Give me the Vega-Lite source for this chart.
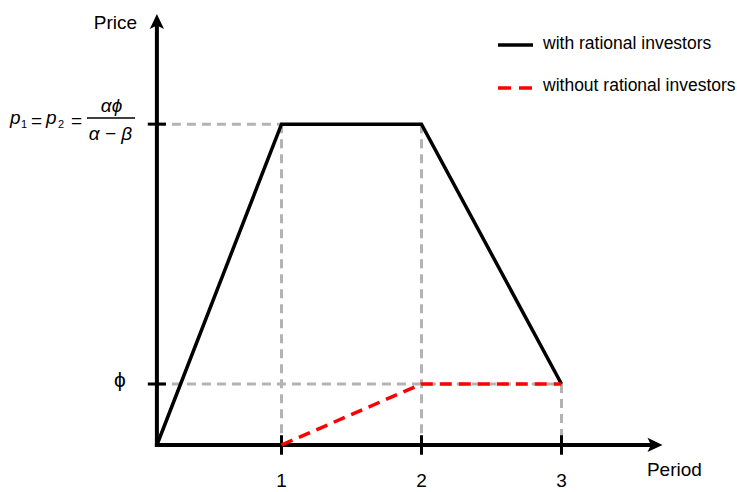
{
  "$schema": "https://vega.github.io/schema/vega-lite/v6.json",
  "width": 737,
  "height": 492,
  "autosize": {"type": "none"},
  "padding": 0,
  "background": "white",
  "config": {
    "view": {"stroke": null},
    "text": {"font": "Liberation Sans", "color": "black"}
  },
  "datasets": {
    "guides": [
      {"x": 0.11, "y": 5.26, "x2": 1, "y2": 5.26},
      {"x": 1, "y": 5.26, "x2": 1, "y2": 0},
      {"x": 2, "y": 5.26, "x2": 2, "y2": 0},
      {"x": 0.11, "y": 1, "x2": 3, "y2": 1},
      {"x": 3, "y": 1, "x2": 3, "y2": 0}
    ],
    "axes": [
      {"x": 0.11, "y": 0, "x2": 3.64, "y2": 0},
      {"x": 0.11, "y": 0, "x2": 0.11, "y2": 6.88}
    ],
    "ticks": [
      {"x": 1, "y": -0.16, "x2": 1, "y2": 0.16},
      {"x": 2, "y": -0.16, "x2": 2, "y2": 0.16},
      {"x": 3, "y": -0.16, "x2": 3, "y2": 0.16},
      {"x": 0.045, "y": 1, "x2": 0.175, "y2": 1},
      {"x": 0.045, "y": 5.26, "x2": 0.175, "y2": 5.26}
    ],
    "arrow_x": [{"x": 3.668, "y": 0}],
    "arrow_y": [{"x": 0.11, "y": 6.943}],
    "with_rational": [
      {"x": 0.11, "y": 0},
      {"x": 1, "y": 5.26},
      {"x": 2, "y": 5.26},
      {"x": 3, "y": 1}
    ],
    "without_rational": [
      {"x": 1, "y": 0},
      {"x": 2, "y": 1},
      {"x": 3, "y": 1}
    ],
    "period_labels": [
      {"x": 1, "y": -0.695, "label": "1"},
      {"x": 2, "y": -0.695, "label": "2"},
      {"x": 3, "y": -0.695, "label": "3"}
    ],
    "title_period": [{"x": 3.61, "y": -0.508, "label": "Period"}],
    "title_price": [{"x": -0.032, "y": 6.82, "label": "Price"}],
    "phi_label": [{"x": -0.1536, "y": 1.049, "label": "ϕ"}],
    "formula_p": [
      {"x": -0.9393, "y": 5.262, "label": "p"},
      {"x": -0.682, "y": 5.262, "label": "p"}
    ],
    "formula_sub": [
      {"x": -0.8607, "y": 5.197, "label": "1"},
      {"x": -0.5964, "y": 5.197, "label": "2"}
    ],
    "formula_eq": [
      {"x": -0.7893, "y": 5.221, "label": "="},
      {"x": -0.5036, "y": 5.221, "label": "="}
    ],
    "formula_frac": [
      {"x": -0.2143, "y": 5.459, "label": "αϕ"},
      {"x": -0.2214, "y": 5.0, "label": "α − β"}
    ],
    "formula_bar": [{"x": -0.3893, "y": 5.36, "x2": -0.0464, "y2": 5.36}],
    "legend_with": [{"x": 2.5464, "y": 6.557, "x2": 2.7964, "y2": 6.557}],
    "legend_without": [{"x": 2.5464, "y": 5.852, "x2": 2.7964, "y2": 5.852}],
    "legend_text": [
      {"x": 2.868, "y": 6.574, "label": "with rational investors"},
      {"x": 2.868, "y": 5.885, "label": "without rational investors"}
    ]
  },
  "encoding": {
    "x": {"field": "x", "type": "quantitative", "axis": null,
          "scale": {"domain": [-1.0107, 4.2536], "nice": false, "zero": false}},
    "y": {"field": "y", "type": "quantitative", "axis": null,
          "scale": {"domain": [-0.7705, 7.2951], "nice": false, "zero": false}}
  },
  "layer": [
    {
      "data": {"name": "guides"},
      "mark": {"type": "rule", "stroke": "#b3b3b3", "strokeWidth": 3, "strokeDash": [9, 6]},
      "encoding": {"x2": {"field": "x2"}, "y2": {"field": "y2"}}
    },
    {
      "data": {"name": "axes"},
      "mark": {"type": "rule", "stroke": "black", "strokeWidth": 4, "strokeCap": "square"},
      "encoding": {"x2": {"field": "x2"}, "y2": {"field": "y2"}}
    },
    {
      "data": {"name": "ticks"},
      "mark": {"type": "rule", "stroke": "black", "strokeWidth": 3},
      "encoding": {"x2": {"field": "x2"}, "y2": {"field": "y2"}}
    },
    {
      "data": {"name": "arrow_x"},
      "mark": {"type": "point", "filled": true, "color": "black", "opacity": 1, "size": 225,
               "shape": "M1,0 L-1,-0.95 L-0.55,0 L-1,0.95 Z"}
    },
    {
      "data": {"name": "arrow_y"},
      "mark": {"type": "point", "filled": true, "color": "black", "opacity": 1, "size": 225,
               "shape": "M0,-1 L-0.95,1 L0,0.55 L0.95,1 Z"}
    },
    {
      "data": {"name": "with_rational"},
      "mark": {"type": "line", "color": "black", "strokeWidth": 3.5, "strokeJoin": "miter"},
      "encoding": {}
    },
    {
      "data": {"name": "without_rational"},
      "mark": {"type": "line", "color": "#ff0000", "strokeWidth": 3.5, "strokeDash": [12, 7], "strokeJoin": "miter"},
      "encoding": {}
    },
    {
      "data": {"name": "period_labels"},
      "mark": {"type": "text", "fontSize": 19, "align": "center", "baseline": "alphabetic"},
      "encoding": {"text": {"field": "label"}}
    },
    {
      "data": {"name": "title_period"},
      "mark": {"type": "text", "fontSize": 19, "align": "left", "baseline": "alphabetic"},
      "encoding": {"text": {"field": "label"}}
    },
    {
      "data": {"name": "title_price"},
      "mark": {"type": "text", "fontSize": 19, "align": "right", "baseline": "alphabetic"},
      "encoding": {"text": {"field": "label"}}
    },
    {
      "data": {"name": "phi_label"},
      "mark": {"type": "text", "fontSize": 21, "align": "center", "baseline": "middle"},
      "encoding": {"text": {"field": "label"}}
    },
    {
      "data": {"name": "formula_p"},
      "mark": {"type": "text", "fontSize": 19, "fontStyle": "italic", "align": "left", "baseline": "alphabetic"},
      "encoding": {"text": {"field": "label"}}
    },
    {
      "data": {"name": "formula_sub"},
      "mark": {"type": "text", "fontSize": 11, "align": "left", "baseline": "alphabetic"},
      "encoding": {"text": {"field": "label"}}
    },
    {
      "data": {"name": "formula_eq"},
      "mark": {"type": "text", "fontSize": 19, "align": "left", "baseline": "alphabetic"},
      "encoding": {"text": {"field": "label"}}
    },
    {
      "data": {"name": "formula_frac"},
      "mark": {"type": "text", "fontSize": 19, "fontStyle": "italic", "align": "center", "baseline": "alphabetic"},
      "encoding": {"text": {"field": "label"}}
    },
    {
      "data": {"name": "formula_bar"},
      "mark": {"type": "rule", "stroke": "black", "strokeWidth": 1.5},
      "encoding": {"x2": {"field": "x2"}, "y2": {"field": "y2"}}
    },
    {
      "data": {"name": "legend_with"},
      "mark": {"type": "rule", "stroke": "black", "strokeWidth": 3.5},
      "encoding": {"x2": {"field": "x2"}, "y2": {"field": "y2"}}
    },
    {
      "data": {"name": "legend_without"},
      "mark": {"type": "rule", "stroke": "#ff0000", "strokeWidth": 3.5, "strokeDash": [13, 8]},
      "encoding": {"x2": {"field": "x2"}, "y2": {"field": "y2"}}
    },
    {
      "data": {"name": "legend_text"},
      "mark": {"type": "text", "fontSize": 17.5, "align": "left", "baseline": "middle"},
      "encoding": {"text": {"field": "label"}}
    }
  ]
}
